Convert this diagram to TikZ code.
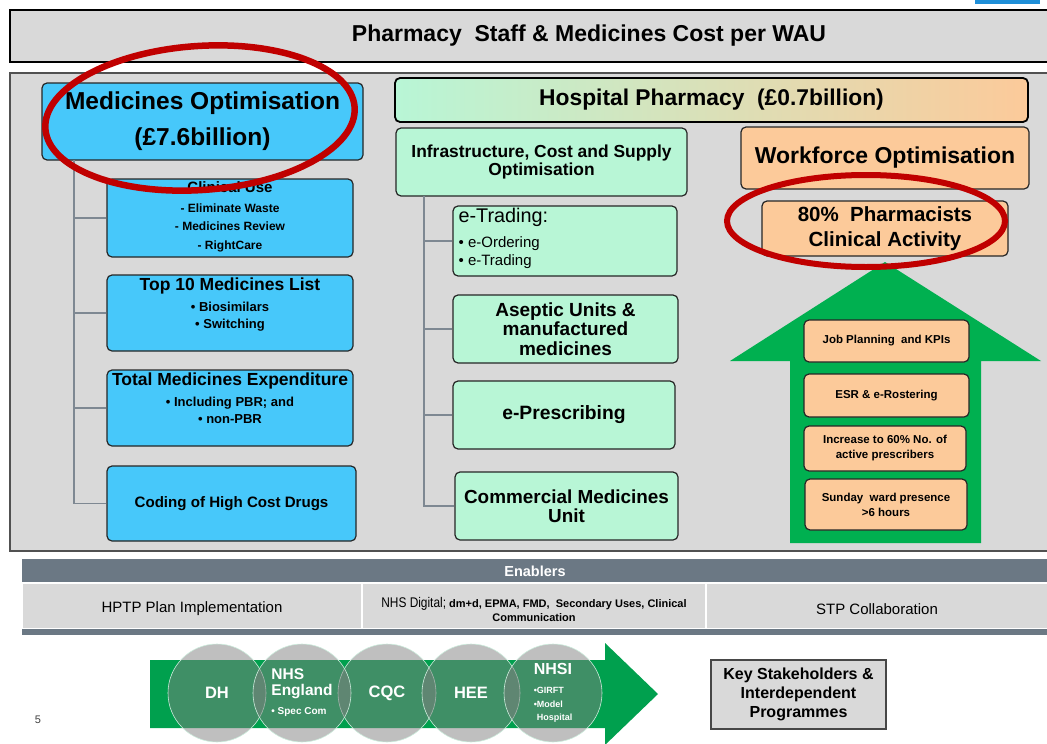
\documentclass[tikz,border=0pt]{standalone}
\usepackage{fontspec}
\setmainfont{Liberation Sans}
\newfontfamily\narrowfont[FakeStretch=0.85]{Liberation Sans}

\definecolor{panelgray}{HTML}{D9D9D9}
\definecolor{mocyan}{HTML}{47C8FA}
\definecolor{mint}{HTML}{B8F6D6}
\definecolor{peach}{HTML}{FCCA9A}
\definecolor{upgreen}{HTML}{00B050}
\definecolor{flowgreen}{HTML}{00A04E}
\definecolor{slate}{HTML}{6B7884}
\definecolor{treegray}{HTML}{7E8892}
\definecolor{ringgray}{HTML}{7F7F7F}
\definecolor{ringred}{HTML}{C00000}
\definecolor{edge}{HTML}{262626}
\definecolor{topblue}{HTML}{1F8FD8}

\newcommand{\fsz}[2]{\fontsize{#1}{#2}\selectfont}
\newcommand{\lowered}[2][3pt]{\raisebox{-#1}[\height][\depth]{#2}}

\tikzset{
  mobox/.style={draw=edge, line width=1.2pt, rounded corners=5pt, fill=mocyan, align=center, inner sep=0pt},
  hpbox/.style={mobox, fill=mint},
  wfbox/.style={mobox, fill=peach},
  tree/.style={treegray, line width=1.8pt},
  ring/.style={circle, minimum size=98pt, inner sep=0pt, fill=ringgray, fill opacity=0.5, text opacity=1,
    draw=white!80!flowgreen, line width=0.6pt, text=white, align=left},
  redring/.style={ringred, line width=6.5pt},
  cell/.style={fill=panelgray, draw=white, line width=1.5pt, minimum height=46pt, inner sep=0pt, align=center}
}

\begin{document}
\begin{tikzpicture}[x=1pt, y=-1pt]
    \useasboundingbox (0,0) rectangle (1047,744);
    \clip (0,0) rectangle (1047,744);

    % Heading
    \fill[topblue] (975,0) rectangle (1040,4);
    \node[draw=black, line width=2.2pt, fill=panelgray, minimum width=1158pt, minimum height=52pt, inner sep=0pt,
          font=\fsz{23}{27}\bfseries] (title) at (589,36) {Pharmacy~ Staff \& Medicines Cost per WAU};

    % Main panel
    \draw[fill=panelgray, draw=edge!80, line width=1.2pt] (10,73) rectangle (1070,551);

    % Medicines optimisation tree
    \node[mobox, minimum width=321pt, minimum height=77pt, font=\fsz{24.5}{27}\bfseries] (mo) at (202.5,121.5)
        {Medicines Optimisation\\[9pt](£7.6billion)};
    \node[mobox, minimum width=246pt, minimum height=78pt] (cu) at (230,218) {};
    \node[mobox, minimum width=246pt, minimum height=76pt] (t10) at (230,313) {};
    \node[mobox, minimum width=246pt, minimum height=76pt] (tme) at (230,408) {};
    \node[mobox, minimum width=249pt, minimum height=75pt, font=\fsz{15.1}{17}\bfseries] (chc) at (231.5,503.5)
        {Coding of High Cost Drugs};

    \node[align=center, anchor=north, inner sep=0pt, font=\fsz{12}{18.5}\bfseries] (cutxt) at ([yshift=-3pt]cu.north)
        {{\fsz{15}{18}Clinical Use}\\[1.5pt]- Eliminate Waste\\- Medicines Review\\- RightCare};
    \node[align=center, anchor=north, inner sep=0pt, font=\fsz{13}{16.5}\bfseries] (t10txt) at ([yshift=-3pt]t10.north)
        {{\fsz{17.5}{19}Top 10 Medicines List}\\[5pt]• Biosimilars\\• Switching};
    \node[align=center, anchor=north, inner sep=0pt, font=\fsz{13}{16.5}\bfseries] (tmetxt) at ([yshift=-3pt]tme.north)
        {{\fsz{17.5}{19}Total Medicines Expenditure}\\[5pt]• Including PBR; and\\• non-PBR};

    \coordinate (mospine) at (74,160);
    \foreach \c in {cu,t10,tme,chc}
        \draw[tree] (mospine) |- (\c.west);

    % Hospital pharmacy tree
    \node[mobox, draw=black, line width=1.8pt, left color=mint, right color=peach, minimum width=633pt, minimum height=44pt,
          font=\fsz{22.8}{25}\bfseries] (hp) at (711.5,100) {Hospital Pharmacy~ (£0.7billion)};
    \node[hpbox, minimum width=291pt, minimum height=68pt, font=\fsz{17.4}{18}\bfseries] (infra) at (541.5,162)
        {Infrastructure, Cost and Supply\\Optimisation};
    \node[hpbox, minimum width=224pt, minimum height=70pt] (etr) at (565,241) {};
    \node[align=left, anchor=north west, inner sep=0pt, font=\fsz{15}{18}] (etrtxt) at ([xshift=6pt, yshift=-3pt]etr.north west)
        {{\fsz{19.8}{20}e-Trading:}\\[7pt]• e-Ordering\\• e-Trading};
    \node[hpbox, minimum width=225pt, minimum height=68pt, font=\fsz{19}{19.5}\bfseries] (asep) at (565.5,329)
        {Aseptic Units \&\\manufactured\\medicines};
    \node[hpbox, minimum width=222pt, minimum height=68pt, font=\fsz{19.3}{20}\bfseries] (epre) at (564,415) {e-Prescribing};
    \node[hpbox, minimum width=223pt, minimum height=68pt, font=\fsz{18.9}{19}\bfseries] (cmu) at (566.5,506)
        {Commercial Medicines\\Unit};

    \coordinate (hpspine) at (424,196);
    \foreach \c in {etr,asep,epre,cmu}
        \draw[tree] (hpspine) |- (\c.west);

    % Workforce column and the up arrow
    \node[wfbox, minimum width=288pt, minimum height=62pt, font=\fsz{23}{25}\bfseries] (wo) at (885,158) {Workforce Optimisation};
    \node[wfbox, minimum width=246pt, minimum height=55pt, font=\fsz{20.5}{24.5}\bfseries] (pca) at (885,228.5)
        {80\%~ Pharmacists\\Clinical Activity};
    \fill[upgreen] (885,262) -- (1041,361) -- (981,361) -- (981,543) -- (790,543) -- (790,361) -- (730,361) -- cycle;
    \node[wfbox, minimum width=165pt, minimum height=42pt, font=\fsz{11.5}{15}\bfseries] (jp) at (886.5,341) {Job Planning~ and KPIs};
    \node[wfbox, minimum width=165pt, minimum height=43pt, font=\fsz{11.5}{15}\bfseries] (esr) at (886.5,395.5) {ESR \& e-Rostering};
    \node[wfbox, minimum width=162pt, minimum height=45pt, font=\fsz{11.5}{15}\bfseries] (inc) at (885,448.5)
        {Increase to 60\% No. of\\active prescribers};
    \node[wfbox, minimum width=162pt, minimum height=51pt, font=\fsz{11.5}{15}\bfseries] (sun) at (886,504.5)
        {Sunday~ ward presence\\>6 hours};

    % Highlight rings
    \draw[redring, rotate around={4:(200,118)}] (200,118) ellipse [x radius=155pt, y radius=72pt];
    \draw[redring, line width=6pt] (866,221) ellipse [x radius=139pt, y radius=46pt];

    % Enablers
    \node[fill=slate, minimum width=1026pt, minimum height=24pt, inner sep=0pt, text=white,
          font=\fsz{14.5}{16}\bfseries] (enab) at (535,571) {Enablers};
    \node[cell, minimum width=340pt, font=\fsz{15}{16}] (hptp) at (192,606) {\lowered{HPTP Plan Implementation}};
    \node[cell, minimum width=344pt, font=\fsz{11}{14}\bfseries] (nhsd) at (534,606)
        {\lowered[6pt]{\begin{tabular}{@{}c@{}}{\narrowfont\fsz{14}{14}\mdseries NHS Digital;} dm+d, EPMA, FMD,~ Secondary Uses, Clinical\\Communication\end{tabular}}};
    \node[cell, minimum width=342pt, font=\fsz{15}{16}] (stp) at (877,606) {\lowered{STP Collaboration}};
    \fill[slate] (22,629) rectangle (1048,635);

    % Stakeholders
    \node[font=\fsz{11}{13}, text=black!75] (pgnum) at (38,720) {5};
    \fill[flowgreen] (150,660) -- (605,660) -- (605,643) -- (658,694) -- (605,745) -- (605,728) -- (150,728) -- cycle;
    \foreach \n/\x/\t in {dh/217/DH, cqc/387/CQC, hee/471/HEE}
        \node[ring, font=\fsz{16.5}{17}\bfseries] (\n) at (\x,693) {\t};
    \node[ring, font=\fsz{15.5}{16}\bfseries] (nhse) at (302,693) {NHS\\England\\[3pt]{\fsz{10}{10}• Spec Com}};
    \node[ring, font=\fsz{9}{13.5}\bfseries] (nhsi) at (553,693) {{\fsz{16}{16}NHSI}\\[6pt]•GIRFT\\•Model\\\hspace{3pt}Hospital};

    \node[draw=edge!85, line width=2pt, fill=panelgray, minimum width=175pt, minimum height=69pt, inner sep=0pt,
          align=center, font=\fsz{16}{19}\bfseries] (key) at (798.5,694.5) {Key Stakeholders \&\\Interdependent\\Programmes};
\end{tikzpicture}
\end{document}
